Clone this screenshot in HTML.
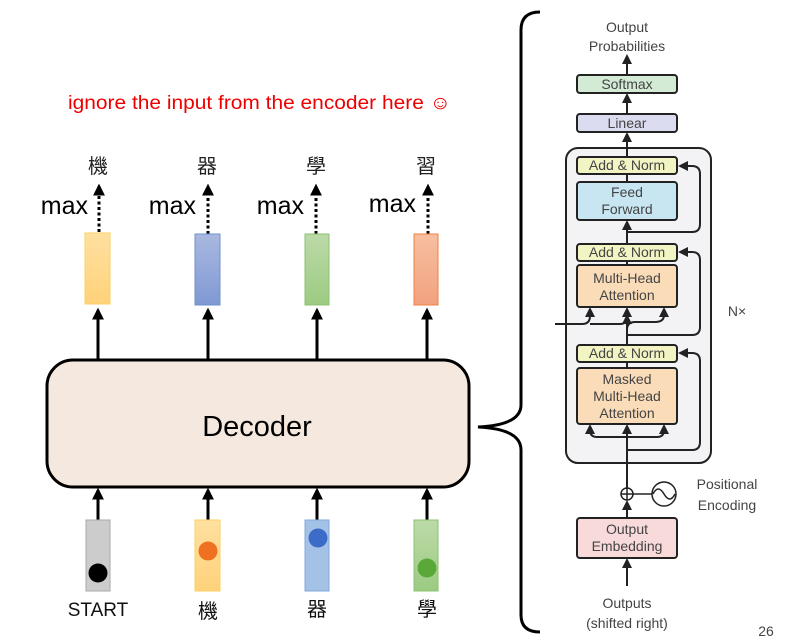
<!DOCTYPE html>
<html><head><meta charset="utf-8"><style>
html,body{margin:0;padding:0;background:#fff;}
svg{display:block;}
.t{font-family:"Liberation Sans","Noto Sans CJK TC",sans-serif;}
.g{font-family:"Liberation Sans",sans-serif;fill:#444;font-size:14px;text-anchor:middle;}
.b{stroke:#222;stroke-width:2;}
</style></head><body>
<svg width="800" height="644" viewBox="0 0 800 644" xmlns="http://www.w3.org/2000/svg">
<defs>
<marker id="a" viewBox="0 0 10 10" refX="8" refY="5" markerWidth="4" markerHeight="4" orient="auto"><path d="M0,0L10,5L0,10z" fill="#000"/></marker>
<marker id="s" viewBox="0 0 10 10" refX="8" refY="5" markerWidth="5" markerHeight="5" orient="auto"><path d="M0,0L10,5L0,10z" fill="#222"/></marker>
<linearGradient id="y" x1="0" y1="0" x2="0" y2="1"><stop offset="0" stop-color="#ffe0a0"/><stop offset="1" stop-color="#ffd27a"/></linearGradient>
<linearGradient id="bl" x1="0" y1="0" x2="0" y2="1"><stop offset="0" stop-color="#a9b8e0"/><stop offset="1" stop-color="#8099d4"/></linearGradient>
<linearGradient id="gr" x1="0" y1="0" x2="0" y2="1"><stop offset="0" stop-color="#bcdaa8"/><stop offset="1" stop-color="#9ccb82"/></linearGradient>
<linearGradient id="or" x1="0" y1="0" x2="0" y2="1"><stop offset="0" stop-color="#f6bfa0"/><stop offset="1" stop-color="#f2a27f"/></linearGradient>
</defs>
<text x="68" y="109" class="t" font-size="19" fill="#ee0000" textLength="383" lengthAdjust="spacingAndGlyphs">ignore the input from the encoder here ☺</text>
<g class="t" font-size="20" text-anchor="middle" fill="#222">
<text x="98" y="173">機</text><text x="207" y="173">器</text><text x="316" y="173">學</text><text x="426" y="173">習</text>
</g>
<g class="t" font-size="25" text-anchor="end" fill="#000">
<text x="88" y="214">max</text><text x="196" y="214">max</text><text x="304" y="214">max</text><text x="416" y="212">max</text>
</g>
<g stroke="#000" stroke-width="3" stroke-dasharray="3,2.5" marker-end="url(#a)">
<line x1="99" y1="232" x2="99" y2="186"/><line x1="208" y1="234" x2="208" y2="186"/><line x1="316" y1="234" x2="316" y2="186"/><line x1="428" y1="234" x2="428" y2="186"/>
</g>
<rect x="85" y="233" width="25" height="71" fill="url(#y)" stroke="#ffd060"/>
<rect x="195" y="234" width="25" height="71" fill="url(#bl)" stroke="#7090d0"/>
<rect x="305" y="234" width="24" height="71" fill="url(#gr)" stroke="#8cc070"/>
<rect x="414" y="234" width="24" height="71" fill="url(#or)" stroke="#f08040"/>
<g stroke="#000" stroke-width="3" marker-end="url(#a)">
<line x1="98" y1="360" x2="98" y2="310"/><line x1="208" y1="360" x2="208" y2="310"/><line x1="317" y1="360" x2="317" y2="310"/><line x1="427" y1="360" x2="427" y2="310"/>
<line x1="98" y1="520" x2="98" y2="490"/><line x1="208" y1="520" x2="208" y2="490"/><line x1="317" y1="520" x2="317" y2="490"/><line x1="427" y1="520" x2="427" y2="490"/>
</g>
<rect x="47" y="360" width="422" height="127" rx="26" fill="#f5e8df" stroke="#000" stroke-width="3"/>
<text x="257" y="436" class="t" font-size="29" text-anchor="middle" fill="#000">Decoder</text>
<rect x="86" y="520" width="24" height="71" fill="#cccccc" stroke="#aaa"/>
<rect x="195" y="520" width="25" height="71" fill="url(#y)" stroke="#ffd060"/>
<rect x="305" y="520" width="24" height="71" fill="#a4c2e6" stroke="#80a8dc"/>
<rect x="414" y="520" width="24" height="71" fill="url(#gr)" stroke="#8cc070"/>
<circle cx="98" cy="573" r="9.5" fill="#000"/>
<circle cx="208" cy="551" r="9.5" fill="#ee7020"/>
<circle cx="318" cy="538" r="9.5" fill="#3d6cc8"/>
<circle cx="427" cy="568" r="9.5" fill="#5aa838"/>
<g class="t" font-size="20" text-anchor="middle" fill="#111">
<text x="98" y="616" font-size="19">START</text><text x="208" y="618">機</text><text x="317" y="616">器</text><text x="427" y="616">學</text>
</g>
<path d="M540,12 Q521,12 521,30 L521,405 Q521,425 478,427 Q521,429 521,450 L521,615 Q521,632 540,632" fill="none" stroke="#000" stroke-width="3"/>
<text x="627" y="32" class="g">Output</text><text x="627" y="51" class="g">Probabilities</text>
<rect x="566" y="148" width="145" height="315" rx="12" fill="#f3f3f5" class="b"/>
<g class="b" fill="none" marker-end="url(#s)">
<line x1="627" y1="75" x2="627" y2="56"/><line x1="627" y1="114" x2="627" y2="95"/><line x1="627" y1="157" x2="627" y2="134"/>
<line x1="627" y1="243" x2="627" y2="222"/>
<line x1="627" y1="517" x2="627" y2="502"/>
<path d="M627,345 L627,330 Q627,322 635,322 L655,322 Q664,322 664,315 L664,309"/>
<path d="M627,330 L627,309"/>
<path d="M555,324 L582,324 Q590,324 590,316 L590,309"/>
<path d="M590,324 L620,324 Q627,324 627,316"/>
<path d="M627,463 L627,426"/>
<path d="M627,437 L597,437 Q590,437 590,430 L590,426"/>
<path d="M627,437 L657,437 Q664,437 664,430 L664,426"/>
<path d="M627,450 L692,450 Q700,450 700,442 L700,361 Q700,353 692,353 L680,353"/>
<path d="M627,335 L692,335 Q700,335 700,327 L700,260 Q700,252 692,252 L680,252"/>
<path d="M627,232 L692,232 Q700,232 700,224 L700,174 Q700,166 692,166 L680,166"/>
<line x1="627" y1="586" x2="627" y2="560"/>
</g>
<line x1="627" y1="488" x2="627" y2="463" class="b"/>
<line x1="627" y1="363" x2="627" y2="368" class="b"/>
<line x1="627" y1="262" x2="627" y2="265" class="b"/>
<line x1="627" y1="175" x2="627" y2="182" class="b"/>
<g class="g" font-size="13">
<rect x="577" y="75" width="100" height="18" rx="3" fill="#d3ead5" class="b"/><text x="627" y="89">Softmax</text>
<rect x="577" y="114" width="100" height="18" rx="3" fill="#dcdcf0" class="b"/><text x="627" y="128">Linear</text>
<rect x="577" y="157" width="100" height="17" rx="3" fill="#f2f4c3" class="b"/><text x="627" y="170">Add &amp; Norm</text>
<rect x="577" y="182" width="100" height="38" rx="3" fill="#c7e6f2" class="b"/><text x="627" y="197">Feed</text><text x="627" y="214">Forward</text>
<rect x="577" y="244" width="100" height="17" rx="3" fill="#f2f4c3" class="b"/><text x="627" y="257">Add &amp; Norm</text>
<rect x="577" y="265" width="100" height="42" rx="3" fill="#fbdcb8" class="b"/><text x="627" y="283">Multi-Head</text><text x="627" y="300">Attention</text>
<rect x="577" y="345" width="100" height="17" rx="3" fill="#f2f4c3" class="b"/><text x="627" y="358">Add &amp; Norm</text>
<rect x="577" y="368" width="100" height="56" rx="3" fill="#fbdcb8" class="b"/><text x="627" y="384">Masked</text><text x="627" y="401">Multi-Head</text><text x="627" y="418">Attention</text>
<rect x="577" y="518" width="100" height="40" rx="3" fill="#f8dada" class="b"/><text x="627" y="534">Output</text><text x="627" y="551">Embedding</text>
</g>
<circle cx="627" cy="494" r="6" fill="#fff" stroke="#222" stroke-width="1.5"/>
<path d="M621,494h12M627,488v12" stroke="#222" stroke-width="1.5"/>
<line x1="633" y1="494" x2="652" y2="494" stroke="#222" stroke-width="1.5"/>
<circle cx="664" cy="494" r="12" fill="#fff" stroke="#222" stroke-width="1.5"/>
<path d="M653,494 Q658,484 664,494 Q670,504 675,494" fill="none" stroke="#222" stroke-width="1.5"/>
<text x="727" y="489" class="g" font-size="15">Positional</text><text x="727" y="510" class="g" font-size="15">Encoding</text>
<text x="737" y="316" class="g" font-size="14">N×</text>
<text x="627" y="608" class="g" font-size="15">Outputs</text><text x="627" y="628" class="g" font-size="15">(shifted right)</text>
<text x="766" y="636" class="g" font-size="12" fill="#777">26</text>
</svg>
</body></html>
